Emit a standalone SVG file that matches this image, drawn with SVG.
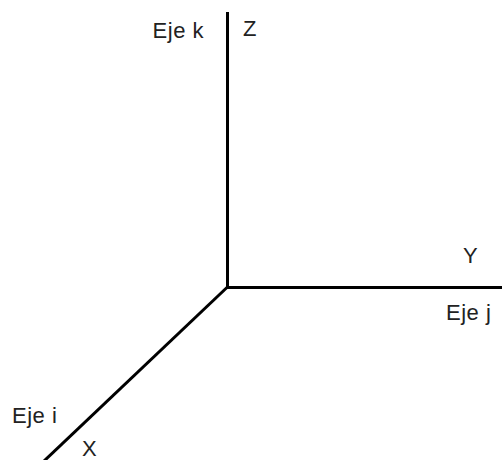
<svg xmlns="http://www.w3.org/2000/svg" width="502" height="460" viewBox="0 0 502 460">
<style>
.ax{stroke:#000;stroke-width:3;fill:none;stroke-linecap:butt}
.t{font-family:"Liberation Sans",Arial,sans-serif;font-size:22px;letter-spacing:0.5px;fill:#222}
</style>
<rect width="502" height="460" fill="#fff"/>
<g id="connectors">
<line class="ax" x1="227.5" y1="12" x2="227.5" y2="288"/>
<line class="ax" x1="226" y1="287.5" x2="502" y2="287.5"/>
<line class="ax" x1="228" y1="286.5" x2="43" y2="462"/>
</g>
<g id="label-k"><text class="t" x="204" y="38" text-anchor="end">Eje k</text></g>
<g id="label-z"><text class="t" x="243" y="36">Z</text></g>
<g id="label-y"><text class="t" x="463" y="263">Y</text></g>
<g id="label-j"><text class="t" x="446" y="320">Eje j</text></g>
<g id="label-i"><text class="t" x="12" y="423">Eje i</text></g>
<g id="label-x"><text class="t" x="82" y="456">X</text></g>
</svg>
